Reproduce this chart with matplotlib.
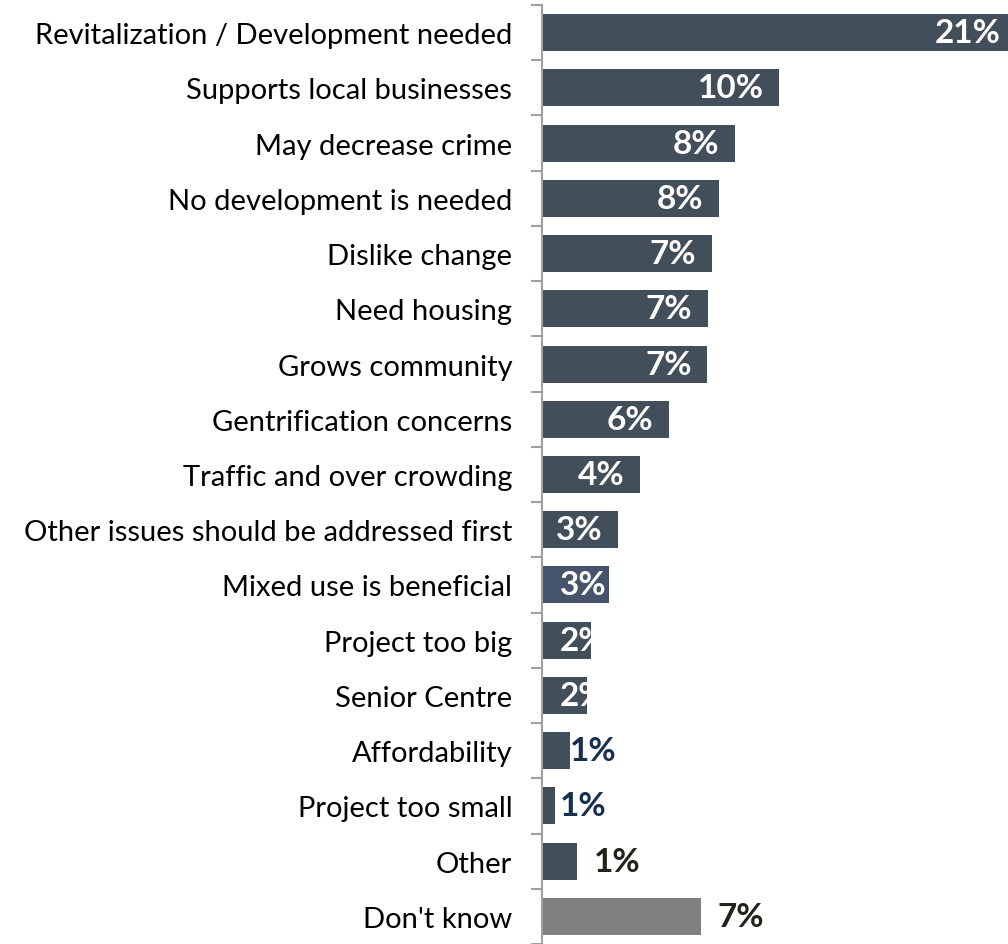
import matplotlib.pyplot as plt
import numpy as np

categories = ["Revitalization / Development needed", "Supports local businesses",
              "May decrease crime", "No development is needed", "Dislike change",
              "Need housing", "Grows community", "Gentrification concerns",
              "Traffic and over crowding", "Other issues should be addressed first",
              "Mixed use is beneficial", "Project too big", "Senior Centre",
              "Affordability", "Project too small", "Other", "Don't know"]
values = [21.0, 10.68, 8.70, 7.98, 7.66, 7.48, 7.44, 5.72, 4.42, 3.42,
          3.02, 2.21, 2.03, 1.26, 0.59, 1.58, 7.17]
labels = ["21%", "10%", "8%", "8%", "7%", "7%", "7%", "6%", "4%", "3%",
          "3%", "2%", "2%", "1%", "1%", "1%", "7%"]

bar_colors = ["#434e5b"] * 10 + ["#46546b"] + ["#434e5b"] * 5 + ["#808080"]
navy = "#17304f"
dark = "#22221a"

plt.rcParams['font.family'] = ['Lato', 'DejaVu Sans']

fig = plt.figure(figsize=(10.08, 9.45), dpi=100)
ax = fig.add_axes([542 / 1008, 0, 1 - 542 / 1008, 1 - 6 / 945])

y = np.arange(len(categories))
bars = ax.barh(y, values, height=0.67, color=bar_colors)

ax.set_ylim(len(categories) - 0.5, -0.5)
ax.set_xlim(0, 21)

# 标签
for i, (b, v, lab) in enumerate(zip(bars, values, labels)):
    if categories[i] in ("Other", "Don't know"):
        ax.text(v + 0.75, i, lab, ha='left', va='center', fontsize=24,
                fontweight='bold', color=dark)
    elif v < 1.8:
        ax.text(max(v, 0.8), i, lab, ha='left', va='center', fontsize=24,
                fontweight='bold', color=navy)
    elif v < 3.3:
        t = ax.text(0.8, i, lab, ha='left', va='center', fontsize=24,
                    fontweight='bold', color='white')
        t.set_clip_path(b)
    else:
        off = 0.35 if v >= 21 else 0.7
        ax.text(v - off, i, lab, ha='right', va='center', fontsize=24,
                fontweight='bold', color='white')

ax.set_yticks(y)
ax.set_yticklabels(categories, fontsize=21)
ax.tick_params(axis='y', which='major', length=0, pad=21.5)
ax.set_yticks(np.arange(-0.5, len(categories), 1), minor=True)
ax.tick_params(axis='y', which='minor', length=8, color='#a0a0a0', width=1.5)
ax.set_xticks([])

for s in ['top', 'right', 'bottom']:
    ax.spines[s].set_visible(False)
ax.spines['left'].set_color('#a0a0a0')
ax.spines['left'].set_linewidth(1.5)

fig.savefig('out.png', dpi=100)
